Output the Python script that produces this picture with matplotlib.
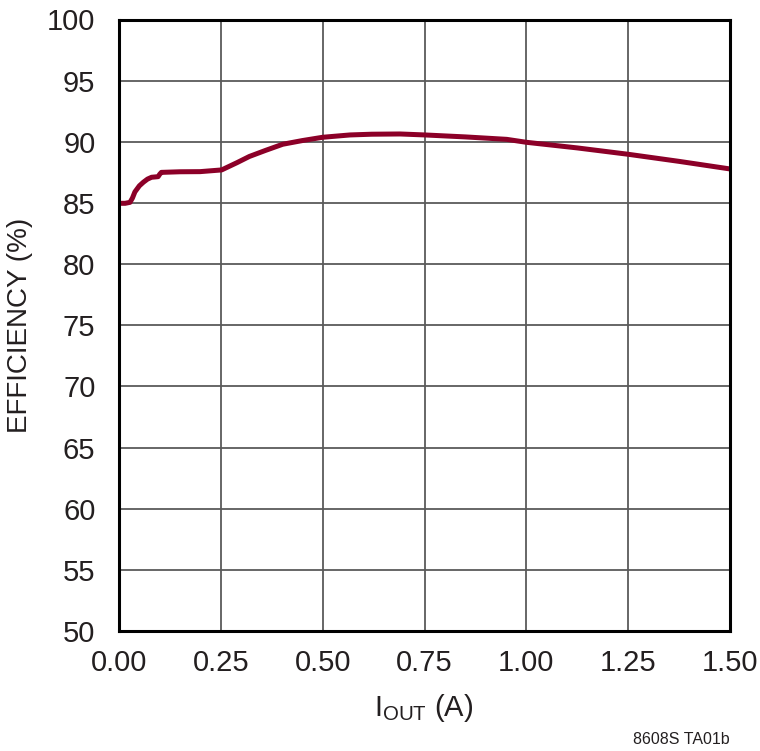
import matplotlib
matplotlib.use("Agg")
import matplotlib.pyplot as plt
from matplotlib import font_manager

fams = [f.name for f in font_manager.fontManager.ttflist]
main_font = "Liberation Sans Narrow" if "Liberation Sans Narrow" in fams else "Liberation Sans"
plt.rcParams['font.family'] = [main_font, 'DejaVu Sans']
plt.rcParams['mathtext.fontset'] = 'custom'
plt.rcParams['mathtext.rm'] = main_font
plt.rcParams['mathtext.it'] = main_font

# Data
iout = [0.0, 0.015, 0.027, 0.033, 0.039, 0.05, 0.06, 0.07, 0.08, 0.096, 0.1, 0.104,
        0.15, 0.199, 0.252, 0.29, 0.32, 0.36, 0.402, 0.45, 0.50, 0.567, 0.62, 0.69,
        0.751, 0.85, 0.952, 1.0, 1.125, 1.25, 1.375, 1.5]
eff = [84.97, 84.97, 85.05, 85.4, 85.9, 86.4, 86.7, 86.95, 87.1, 87.15, 87.35, 87.5,
       87.55, 87.56, 87.7, 88.3, 88.8, 89.3, 89.8, 90.1, 90.37, 90.56, 90.62, 90.64,
       90.56, 90.4, 90.2, 89.96, 89.5, 88.98, 88.4, 87.78]
xticks = [0.0, 0.25, 0.5, 0.75, 1.0, 1.25, 1.5]
xticklabels = ["0.00", "0.25", "0.50", "0.75", "1.00", "1.25", "1.50"]
yticks = list(range(50, 101, 5))

fig = plt.figure(figsize=(7.6, 7.51), dpi=100)
ax = fig.add_axes([119/760, 1-631/751, (730-119)/760, (631-19.5)/751])

ax.plot(iout, eff, color="#8c0028", lw=3.6, solid_capstyle="butt",
        solid_joinstyle="round", zorder=3)

ax.set_xlim(0, 1.5)
ax.set_ylim(50, 100)
ax.set_xticks(xticks)
ax.set_xticklabels(xticklabels)
ax.set_yticks(yticks)
ax.grid(True, color="#5a5a5a", lw=1.3)
ax.tick_params(length=0, labelsize=21, colors="#231f20")
ax.tick_params(axis='y', pad=17)
ax.tick_params(axis='x', pad=13)
for s in ax.spines.values():
    s.set_linewidth(2.2)
    s.set_color("black")
    s.set_zorder(4)

fig.text(20/760, 1-325/751, "EFFICIENCY (%)", rotation=90, ha="center", va="center",
         fontsize=20, color="#231f20")
fig.text(424/760, 1-708/751, r"I$_{\mathrm{OUT}}$ (A)", ha="center", va="center",
         fontsize=21, color="#231f20")
fig.text(730/760, 1-740/751, "8608S TA01b", ha="right", va="center",
         fontsize=11.5, color="#231f20")

fig.savefig("out.png", dpi=100)
